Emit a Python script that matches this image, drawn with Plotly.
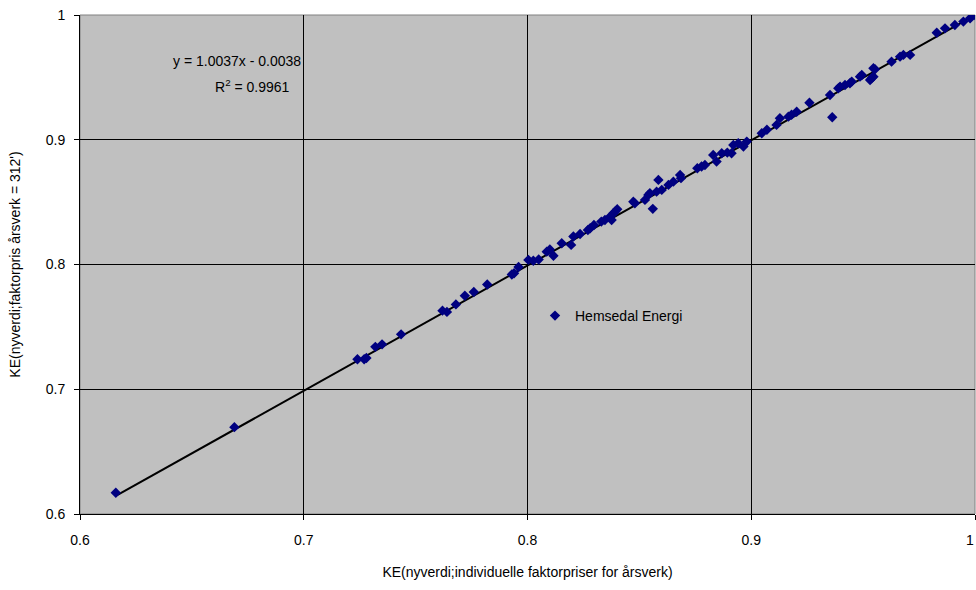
import plotly.graph_objects as go

# Data
x_vals = [0.616, 0.669, 0.724, 0.727, 0.728, 0.732, 0.735, 0.7435, 0.762, 0.764,
          0.768, 0.772, 0.776, 0.782, 0.793, 0.794, 0.796, 0.8004, 0.8026, 0.805,
          0.8086, 0.810, 0.8116, 0.8153, 0.8195, 0.8205, 0.8235, 0.827, 0.828, 0.8297,
          0.833, 0.8346, 0.8369, 0.8376, 0.8384, 0.8392, 0.8401, 0.8473, 0.848, 0.8525,
          0.854, 0.8547, 0.856, 0.8577, 0.8585, 0.86, 0.863, 0.8652, 0.8682, 0.8686,
          0.8759, 0.8778, 0.8793, 0.883, 0.8845, 0.8868, 0.8893, 0.8912, 0.892, 0.8942,
          0.8965, 0.898, 0.9047, 0.907, 0.9113, 0.9128, 0.9166, 0.918, 0.9203, 0.926,
          0.9352, 0.9362, 0.9389, 0.9397, 0.9419, 0.9441, 0.9449, 0.9486, 0.9494, 0.9531,
          0.9538, 0.9546, 0.9553, 0.9546, 0.9627, 0.9665, 0.968, 0.971, 0.9829, 0.9866,
          0.991, 0.9948, 0.9978, 1.0]
y_vals = [0.617, 0.6696, 0.724, 0.724, 0.725, 0.734, 0.736, 0.744, 0.763, 0.762,
          0.768, 0.775, 0.778, 0.784, 0.792, 0.793, 0.798, 0.8037, 0.803, 0.804,
          0.8103, 0.812, 0.807, 0.817, 0.8157, 0.8224, 0.8245, 0.8277, 0.829, 0.8317,
          0.8344, 0.8357, 0.8384, 0.8357, 0.8411, 0.8425, 0.8443, 0.8504, 0.849, 0.8518,
          0.8558, 0.8571, 0.8446, 0.8584, 0.8678, 0.8598, 0.8638, 0.8664, 0.8718, 0.8692,
          0.8772, 0.8785, 0.8798, 0.8878, 0.8825, 0.8892, 0.8897, 0.8892, 0.8958, 0.8972,
          0.8945, 0.8985, 0.9052, 0.908, 0.9119, 0.9172, 0.9185, 0.92, 0.9225, 0.9297,
          0.9359, 0.918, 0.9412, 0.9426, 0.9439, 0.9453, 0.9466, 0.9506, 0.9519, 0.9479,
          0.9493, 0.9506, 0.9565, 0.9573, 0.9626, 0.9666, 0.968, 0.968, 0.9858, 0.9893,
          0.992, 0.9947, 0.9973, 1.0]

series_name = "Hemsedal Energi"
trend_slope = 1.0037
trend_intercept = -0.0038
r_squared = 0.9961
tick_vals = [0.6, 0.7, 0.8, 0.9, 1.0]
tick_text = ["0.6", "0.7", "0.8", "0.9", "1"]

x_title = "KE(nyverdi;individuelle faktorpriser for årsverk)"
y_title = "KE(nyverdi;faktorpris årsverk = 312')"

FONT = "Liberation Sans, Arial, sans-serif"

trend_x = [min(x_vals), max(x_vals)]
trend_y = [trend_slope * v + trend_intercept for v in trend_x]

fig = go.Figure()
fig.add_trace(go.Scatter(
    x=trend_x, y=trend_y, mode="lines",
    line=dict(color="black", width=2), showlegend=False, hoverinfo="skip"))
fig.add_trace(go.Scatter(
    x=x_vals, y=y_vals, mode="markers", name=series_name,
    marker=dict(symbol="diamond", size=8, color="#000080",
                line=dict(width=0))))

PW, PH = 895, 499  # plot area size in px
eq_text = f"y = {trend_slope:.4f}x - {abs(trend_intercept):.4f}"
r_text = f"R<sup>2</sup> = {r_squared:.4f}"
fig.add_annotation(xref="paper", yref="paper", x=157 / PW, y=453 / PH,
                   text=eq_text, showarrow=False, xanchor="center", yanchor="middle",
                   font=dict(family=FONT, size=14, color="black"))
fig.add_annotation(xref="paper", yref="paper", x=172 / PW, y=428 / PH,
                   text=r_text, showarrow=False, xanchor="center", yanchor="middle",
                   font=dict(family=FONT, size=14, color="black"))

# last x tick label sits on the window edge; drawn as an annotation so it stays visible
x_tick_text = tick_text[:-1] + [""]
fig.add_annotation(xref="x", yref="paper", x=tick_vals[-1], y=-26 / PH,
                   text=tick_text[-1], showarrow=False, xanchor="right", yanchor="middle",
                   xshift=1,
                   font=dict(family=FONT, size=14, color="black"))

# plot area border (gray)
fig.add_shape(type="rect", xref="paper", yref="paper", x0=0, y0=0, x1=1, y1=1,
              line=dict(color="#808080", width=1), layer="below")

axis_common = dict(
    range=[0.6, 1.0], tickmode="array", tickvals=tick_vals,
    showgrid=True, gridcolor="black", gridwidth=1, zeroline=False,
    showline=True, linecolor="black", linewidth=1,
    ticks="outside", ticklen=5, tickcolor="black", tickwidth=1,
    ticklabeloverflow="allow",
    tickfont=dict(family=FONT, size=14, color="black"),
)

fig.update_layout(
    width=976, height=590,
    margin=dict(l=80, r=1, t=15, b=76),
    paper_bgcolor="white", plot_bgcolor="#C0C0C0",
    font=dict(family=FONT, size=14, color="black"),
    xaxis=dict(**axis_common, ticktext=x_tick_text, ticklabelstandoff=8,
               title=dict(text=x_title, font=dict(family=FONT, size=14, color="black"), standoff=20)),
    yaxis=dict(**axis_common, ticktext=tick_text, ticklabelstandoff=6,
               title=dict(text=y_title, font=dict(family=FONT, size=14, color="black"), standoff=21)),
    legend=dict(x=455 / PW, y=198 / PH, xanchor="left", yanchor="middle",
                bgcolor="rgba(0,0,0,0)", borderwidth=0,
                font=dict(family=FONT, size=14, color="black")),
    showlegend=True,
)

fig.write_html("out.html",
               config={"displayModeBar": False},
               post_script="document.body.style.margin='0';document.body.style.overflow='hidden';")
